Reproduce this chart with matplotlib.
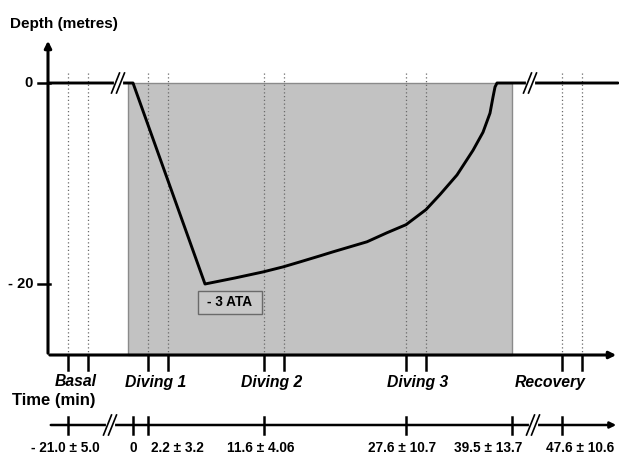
import matplotlib
matplotlib.use("Agg")
import matplotlib.pyplot as plt
from matplotlib.patches import Rectangle

plt.rcParams["font.family"] = ["Liberation Sans", "DejaVu Sans"]

# schematic geometry (x in figure px, depth in metres)
PX_PER_M = 10.05
Y0_PX = 83                      # pixel row of depth 0

profile_x = [48, 133, 205, 235, 263, 283, 300, 320, 333, 350, 367, 387, 406, 426, 440, 457, 473, 483,
             490, 493, 495, 497, 618]
profile_depth = [0, 0, -20, -19.4, -18.8, -18.3, -17.8, -17.2, -16.8, -16.3, -15.8, -14.9, -14.1, -12.6,
                 -11.1, -9.15, -6.7, -4.9, -3.0, -1.4, -0.4, 0, 0]

depth_ticks = [0, -20]
depth_tick_labels = ["0", "- 20"]

sample_x = [68, 88, 148, 168, 264, 284, 406, 426, 562, 582]
phase_labels = ["Basal", "Diving 1", "Diving 2", "Diving 3", "Recovery"]
phase_label_x = [76, 156, 272, 418, 550]

time_tick_x = [68, 133, 148, 264, 406, 512, 562]
time_labels = ["- 21.0 \u00b1 5.0", "0", "2.2 \u00b1 3.2", "11.6 \u00b1 4.06",
               "27.6 \u00b1 10.7", "39.5 \u00b1 13.7", "47.6 \u00b1 10.6"]
time_label_x = [65, 133, 177, 261, 402, 488, 580]

dive_span = (128, 512)
break_top_x = [118, 530]
break_time_x = [110, 533]


def row(py):
    """pixel row -> depth units of the axes"""
    return -(py - Y0_PX) / PX_PER_M


fig = plt.figure(figsize=(6.19, 4.55), dpi=100)
ax = fig.add_axes([0, 0, 1, 1])
ax.set_xlim(0, 619)
ax.set_ylim(row(455), row(0))
ax.axis("off")

# shaded dive period
ax.add_patch(Rectangle((dive_span[0], row(355)), dive_span[1] - dive_span[0], row(83) - row(355),
                       facecolor="#c2c2c2", edgecolor="#8a8a8a", lw=1.0, zorder=1))

# sampling times (dotted verticals + ticks)
for x in sample_x:
    ax.plot([x, x], [row(73), row(355)], color="#6a6a6a", lw=0.9, ls=(0, (1, 2)), zorder=2)
    ax.plot([x, x], [row(355), row(370)], color="black", lw=1.8, zorder=4)

# axes with arrows
ax.annotate("", xy=(48, row(38)), xytext=(48, row(356)),
            arrowprops=dict(arrowstyle="-|>", color="black", lw=2.2, mutation_scale=10), zorder=5)
ax.annotate("", xy=(619, row(355)), xytext=(47, row(355)),
            arrowprops=dict(arrowstyle="-|>", color="black", lw=2.2, mutation_scale=10), zorder=5)

for d, lab in zip(depth_ticks, depth_tick_labels):
    ax.plot([38, 50], [d, d], color="black", lw=1.8, zorder=5)
    ax.text(33, d, lab, ha="right", va="center", fontsize=10.5, fontweight="bold")
ax.text(10, row(24), "Depth (metres)", ha="left", va="center", fontsize=11, fontweight="bold")

# dive profile
ax.plot(profile_x, profile_depth, color="black", lw=2.1, zorder=6,
        solid_joinstyle="round", solid_capstyle="round")


def break_mark(x, y_px):
    ax.plot([x - 2.5, x + 2.5], [row(y_px), row(y_px)], color="white", lw=3, zorder=7)
    for dx in (-2.5, 2.5):
        ax.plot([x + dx - 4, x + dx + 4], [row(y_px + 10), row(y_px - 10)],
                color="black", lw=1.2, zorder=8)


for x in break_top_x:
    break_mark(x, Y0_PX)

# - 3 ATA box
ax.add_patch(Rectangle((198, row(314)), 64, row(291) - row(314),
                       facecolor="#c8c8c8", edgecolor="#6a6a6a", lw=1.0, zorder=6))
ax.text(230, row(302.5), "- 3 ATA", ha="center", va="center", fontsize=9.8, fontweight="bold", zorder=7)

# phase labels
for x, lab in zip(phase_label_x, phase_labels):
    ax.text(x, row(382), lab, ha="center", va="center", fontsize=11.3, fontweight="bold", style="italic")
ax.text(12, row(400), "Time (min)", ha="left", va="center", fontsize=12, fontweight="bold")

# time line
ax.annotate("", xy=(619, row(425)), xytext=(48, row(425)),
            arrowprops=dict(arrowstyle="-|>", color="black", lw=1.8, mutation_scale=9), zorder=5)
for x in time_tick_x:
    ax.plot([x, x], [row(417), row(434)], color="black", lw=1.8, zorder=6)
for x in break_time_x:
    break_mark(x, 425)
for x, lab in zip(time_label_x, time_labels):
    ax.text(x, row(448), lab, ha="center", va="center", fontsize=9.8, fontweight="bold")

fig.savefig("out.png", dpi=100)
